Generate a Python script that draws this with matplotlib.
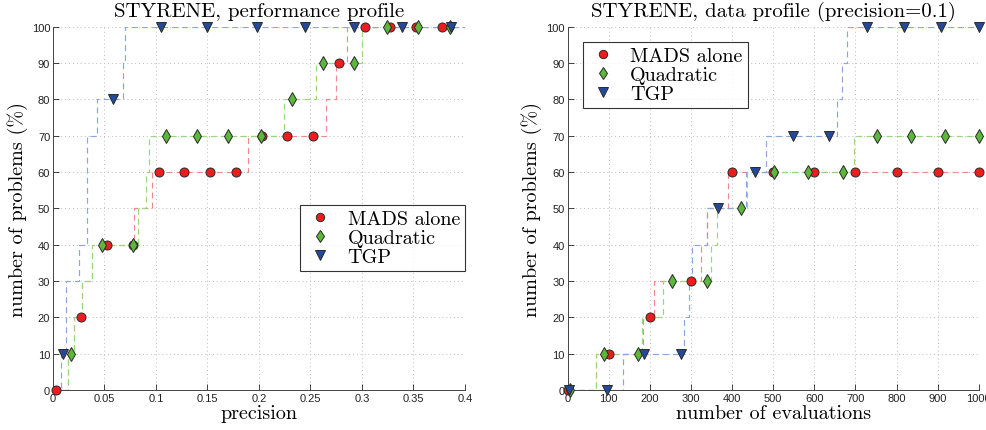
import matplotlib
matplotlib.use('Agg')
import matplotlib.pyplot as plt
from matplotlib.lines import Line2D

# ---- performance profile (left) ----
perf_red_x = [0.0025, 0.0275, 0.0525, 0.0775, 0.1025, 0.1275, 0.1525, 0.1775,
              0.2025, 0.2275, 0.2525, 0.2775, 0.3025, 0.3275, 0.3525, 0.3775]
perf_red_y = [0, 20, 40, 40, 60, 60, 60, 60, 70, 70, 70, 90, 100, 100, 100, 100]
perf_red_step_x = [0, 0.015, 0.02, 0.028, 0.038, 0.079, 0.096, 0.189, 0.265, 0.275, 0.285, 0.4]
perf_red_step_y = [0, 10, 20, 30, 40, 50, 60, 70, 80, 90, 100, 100]

perf_green_x = [0.0175, 0.0476, 0.078, 0.11, 0.14, 0.17, 0.202, 0.232, 0.262,
                0.292, 0.324, 0.354, 0.385]
perf_green_y = [10, 40, 40, 70, 70, 70, 70, 80, 90, 90, 100, 100, 100]
perf_green_step_x = [0, 0.015, 0.02, 0.028, 0.038, 0.083, 0.09, 0.093, 0.224, 0.255, 0.3, 0.4]
perf_green_step_y = [0, 10, 20, 30, 40, 50, 60, 70, 80, 90, 100, 100]

perf_blue_x = [0.0097, 0.058, 0.105, 0.15, 0.198, 0.245, 0.292, 0.339, 0.386]
perf_blue_y = [10, 80, 100, 100, 100, 100, 100, 100, 100]
perf_blue_step_x = [0, 0.008, 0.013, 0.025, 0.033, 0.043, 0.068, 0.07, 0.4]
perf_blue_step_y = [0, 10, 30, 40, 70, 80, 90, 100, 100]

# ---- data profile (right) ----
dp_red_x = [0, 100, 200, 300, 400, 500, 600, 700, 800, 900, 1000]
dp_red_y = [0, 10, 20, 30, 60, 60, 60, 60, 60, 60, 60]
dp_red_step_x = [0, 68, 183, 210, 324, 339, 389, 1000]
dp_red_step_y = [0, 10, 20, 30, 40, 50, 60, 60]

dp_green_x = [6, 88, 171, 254, 338, 421, 502, 585, 669, 753, 835, 918, 1000]
dp_green_y = [0, 10, 10, 30, 30, 50, 60, 60, 60, 70, 70, 70, 70]
dp_green_step_x = [0, 69, 181, 232, 349, 364, 436, 697, 1000]
dp_green_step_y = [0, 10, 20, 30, 40, 50, 60, 70, 70]

dp_blue_x = [3, 95, 186, 276, 366, 456, 548, 636, 728, 818, 908, 1000]
dp_blue_y = [0, 0, 10, 10, 50, 60, 70, 70, 100, 100, 100, 100]
dp_blue_step_x = [0, 134, 284, 296, 302, 339, 434, 482, 655, 668, 680, 1000]
dp_blue_step_y = [0, 10, 20, 30, 40, 50, 60, 70, 80, 90, 100, 100]

labels = ['MADS alone', 'Quadratic', 'TGP']
line_colors = ['#f08a8a', '#9ad67c', '#8aa6dc']
face_colors = ['#ee1c1c', '#5cb83a', '#24499a']
markers = ['o', 'd', 'v']
msizes = [6.5, 7, 7]

SERIF = 'cmr10'
TICKFONT = 'Liberation Sans'


def draw_panel(ax, series, xlim, xticks, xticklabels, xlabel, title):
    for i, (sx, sy, mx, my) in enumerate(series):
        ax.step(sx, sy, where='post', color=line_colors[i], lw=0.85,
                linestyle=(0, (5, 3.5)), zorder=2)
    for i, (sx, sy, mx, my) in enumerate(series):
        ax.plot(mx, my, linestyle='none', marker=markers[i], ms=msizes[i],
                mfc=face_colors[i], mec='#2a2a2a', mew=0.7, zorder=3 + i,
                clip_on=False)
    ax.set_xlim(*xlim)
    ax.set_ylim(0, 100)
    ax.set_xticks(xticks)
    ax.set_xticklabels(xticklabels, fontfamily=TICKFONT, fontsize=8)
    ax.set_yticks(range(0, 101, 10))
    ax.set_yticklabels([str(v) for v in range(0, 101, 10)], fontfamily=TICKFONT, fontsize=8)
    ax.tick_params(direction='in', length=4, width=0.6, colors='#222222', pad=2)
    ax.grid(True, linestyle=(0, (1, 3)), color='#bdbdbd', lw=0.7)
    ax.set_axisbelow(True)
    for s in ['top', 'right']:
        ax.spines[s].set_visible(False)
    for s in ['left', 'bottom']:
        ax.spines[s].set_color('#444444')
        ax.spines[s].set_linewidth(0.7)
    ax.set_xlabel(xlabel, fontfamily=SERIF, fontsize=14.5, labelpad=1)
    ax.set_ylabel('number of problems (%)', fontfamily=SERIF, fontsize=14.5, labelpad=3)
    ax.set_title(title, fontfamily=SERIF, fontsize=15, pad=8)


def legend_handles():
    return [Line2D([], [], linestyle='none', marker=markers[i], ms=msizes[i] - 0.5,
                   mfc=face_colors[i], mec='#2a2a2a', mew=0.7) for i in range(3)]


fig = plt.figure(figsize=(9.87, 4.31), dpi=100)
ax1 = fig.add_axes([0.0537, 0.0928, 0.4174, 0.843])
ax2 = fig.add_axes([0.5752, 0.0928, 0.4164, 0.843])

perf_series = [(perf_red_step_x, perf_red_step_y, perf_red_x, perf_red_y),
               (perf_green_step_x, perf_green_step_y, perf_green_x, perf_green_y),
               (perf_blue_step_x, perf_blue_step_y, perf_blue_x, perf_blue_y)]
perf_ticks = [0, 0.05, 0.1, 0.15, 0.2, 0.25, 0.3, 0.35, 0.4]
perf_ticklabels = ['0', '0.05', '0.1', '0.15', '0.2', '0.25', '0.3', '0.35', '0.4']
draw_panel(ax1, perf_series, (0, 0.4), perf_ticks, perf_ticklabels,
           'precision', 'STYRENE, performance profile')

dp_series = [(dp_red_step_x, dp_red_step_y, dp_red_x, dp_red_y),
             (dp_green_step_x, dp_green_step_y, dp_green_x, dp_green_y),
             (dp_blue_step_x, dp_blue_step_y, dp_blue_x, dp_blue_y)]
dp_ticks = list(range(0, 1001, 100))
draw_panel(ax2, dp_series, (0, 1000), dp_ticks, [str(v) for v in dp_ticks],
           'number of evaluations', 'STYRENE, data profile (precision=0.1)')

leg_kw = dict(prop={'family': SERIF, 'size': 14.5}, frameon=True, fancybox=False,
              edgecolor='black', borderpad=0.25, labelspacing=0.05,
              handletextpad=0.6, handlelength=1.5, borderaxespad=0)
l1 = ax1.legend(legend_handles(), labels, loc='upper right',
                bbox_to_anchor=(1.0, 0.509), **leg_kw)
l2 = ax2.legend(legend_handles(), labels, loc='upper left',
                bbox_to_anchor=(0.037, 0.958), **leg_kw)
for lg in (l1, l2):
    lg.get_frame().set_linewidth(0.8)
    lg.set_zorder(10)

fig.savefig('out.png', dpi=100)
